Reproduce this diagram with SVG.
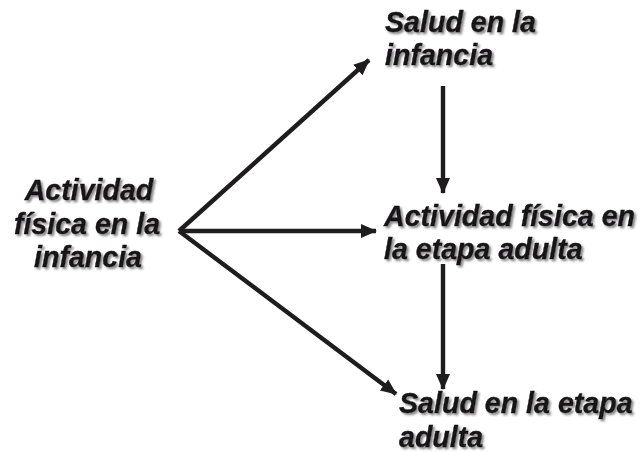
<svg xmlns="http://www.w3.org/2000/svg" width="640" height="453" viewBox="0 0 640 453">
<defs>
<marker id="ah" markerUnits="userSpaceOnUse" markerWidth="16" markerHeight="16" refX="15" refY="8" orient="auto">
<path d="M0,1 L16,8 L0,15 z" fill="#1f1c1d"/>
</marker>
<filter id="sh" x="-10%" y="-20%" width="120%" height="140%">
<feDropShadow dx="2" dy="2" stdDeviation="0.8" flood-color="#7a7a7a" flood-opacity="0.9"/>
</filter>
<style>
.t{font-family:"Liberation Sans",Arial,sans-serif;font-size:28.6px;font-weight:bold;font-style:italic;fill:#141213;stroke:#141213;stroke-width:0.4;filter:url(#sh)}
.c{stroke:#1f1c1d;stroke-width:4.4;fill:none;marker-end:url(#ah)}
</style>
</defs>
<rect width="640" height="453" fill="#ffffff"/>
<g id="connectors">
<line class="c" x1="179" y1="231" x2="369" y2="60"/>
<line class="c" x1="179" y1="231" x2="376" y2="231"/>
<line class="c" x1="179" y1="231" x2="396" y2="394"/>
<line class="c" x1="443" y1="86" x2="443" y2="193"/>
<line class="c" x1="443" y1="264" x2="443" y2="389"/>
</g>
<g id="node-af-infancia">
<text class="t" text-anchor="middle" x="89" y="200">Actividad</text>
<text class="t" text-anchor="middle" x="87" y="234">física en la</text>
<text class="t" text-anchor="middle" x="88" y="267">infancia</text>
</g>
<g id="node-salud-infancia">
<text class="t" x="385" y="32">Salud en la</text>
<text class="t" x="385" y="65">infancia</text>
</g>
<g id="node-af-adulta">
<text class="t" x="384" y="226">Actividad física en</text>
<text class="t" x="384" y="259">la etapa adulta</text>
</g>
<g id="node-salud-adulta">
<text class="t" x="399" y="413">Salud en la etapa</text>
<text class="t" x="399" y="447">adulta</text>
</g>
</svg>
